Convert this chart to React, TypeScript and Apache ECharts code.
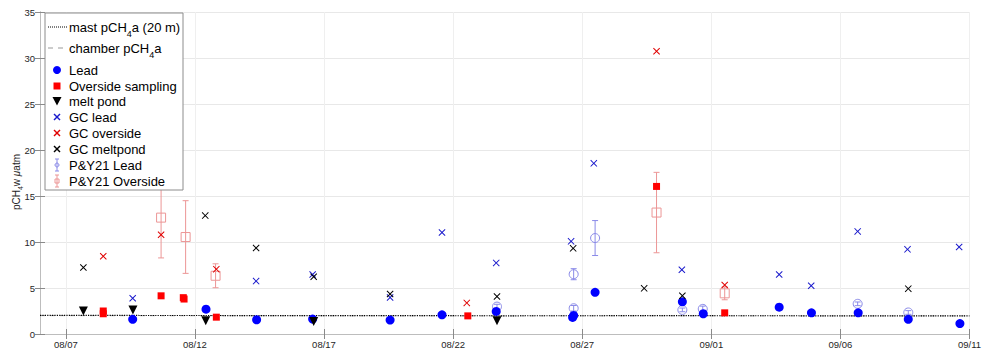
import React, { useEffect, useRef } from "react";
import * as echarts from "echarts";

// x values: days since 08/06 00:00
const xTickDays = [1, 6, 11, 16, 21, 26, 31, 36];
const xTickLabels = ["08/07", "08/12", "08/17", "08/22", "08/27", "09/01", "09/06", "09/11"];

const mastDays = [0, 6, 12, 18, 24, 30, 36];
const mastValues = [2.02, 2.01, 2.0, 1.98, 1.99, 1.98, 1.98];
const chamberValues = [2.0, 1.99, 1.98, 1.97, 1.98, 1.97, 1.97];

const leadDays = [3.59, 6.43, 8.39, 10.56, 13.56, 15.57, 17.67, 20.63, 20.67, 21.5, 24.88, 25.69, 28.63, 29.88, 31.69, 33.63, 35.63];
const leadValues = [1.6, 2.7, 1.55, 1.62, 1.51, 2.08, 2.45, 1.8, 2.02, 4.53, 3.5, 2.2, 2.91, 2.3, 2.3, 1.6, 1.13];

const oversideDays = [2.45, 2.45, 4.69, 5.55, 5.58, 6.83, 16.57, 23.88, 26.52];
const oversideValues = [2.2, 2.5, 4.15, 3.95, 3.8, 1.83, 1.97, 16.04, 2.3];

const meltDays = [1.68, 3.6, 6.42, 10.6, 17.7];
const meltValues = [2.5, 2.62, 1.45, 1.37, 1.44];

const gcLeadDays = [3.59, 8.37, 10.56, 13.56, 15.57, 17.67, 20.57, 21.45, 24.86, 28.63, 29.87, 31.67, 33.6, 35.6];
const gcLeadValues = [3.88, 5.75, 6.47, 3.96, 11.04, 7.73, 10.07, 18.55, 6.98, 6.47, 5.25, 11.15, 9.2, 9.46];

const gcOversideDays = [2.45, 4.69, 6.83, 16.53, 23.88, 26.52];
const gcOversideValues = [8.45, 10.79, 7.05, 3.38, 30.74, 5.32];

const gcMeltDays = [1.68, 6.4, 8.37, 10.6, 13.56, 17.7, 20.65, 23.4, 24.88, 33.63];
const gcMeltValues = [7.23, 12.87, 9.35, 6.22, 4.35, 4.07, 9.31, 4.96, 4.15, 4.93];

const pyLeadDays = [17.7, 20.67, 20.67, 21.5, 24.88, 25.67, 31.67, 33.63];
const pyLeadValues = [2.98, 2.8, 6.5, 10.43, 2.62, 2.73, 3.28, 2.34];
const pyLeadErr = [0.25, 0.3, 0.6, 1.9, 0.2, 0.3, 0.2, 0.2];

const pyOverDays = [4.69, 5.64, 6.8, 23.88, 26.52];
const pyOverValues = [12.65, 10.54, 6.33, 13.2, 4.42];
const pyOverErr = [4.38, 3.95, 1.3, 4.37, 0.7];

const FONT = "Liberation Sans, Arial, Helvetica, sans-serif";
const C_LEAD = "#0000ff";
const C_OVER = "#ff0000";
const C_GCLEAD = "#1a1acc";
const C_GCOVER = "#e00000";
const C_PYLEAD = "#8a8ae8";
const C_PYOVER = "#ec9696";
const XPATH = "path://M0,1L1,0L5,4L9,0L10,1L6,5L10,9L9,10L5,6L1,10L0,9L4,5Z";

const zip = (a: number[], b: number[]) => a.map((v, i) => [v, b[i]]);
const zip3 = (a: number[], b: number[], c: number[]) => a.map((v, i) => [v, b[i], c[i]]);

function errRender(kind: "circle" | "square", color: string) {
  return (params: any, api: any) => {
    const x = api.value(0);
    const y = api.value(1);
    const e = api.value(2);
    const c = api.coord([x, y]);
    const t = api.coord([x, y + e]);
    const b = api.coord([x, y - e]);
    const cap = 3;
    const st = { stroke: color, lineWidth: 1, fill: "none" };
    const children: any[] = [
      { type: "line", shape: { x1: c[0], y1: t[1], x2: c[0], y2: b[1] }, style: st },
      { type: "line", shape: { x1: c[0] - cap, y1: t[1], x2: c[0] + cap, y2: t[1] }, style: st },
      { type: "line", shape: { x1: c[0] - cap, y1: b[1], x2: c[0] + cap, y2: b[1] }, style: st },
    ];
    if (kind === "circle") {
      children.push({ type: "circle", shape: { cx: c[0], cy: c[1], r: 4.5 }, style: st });
    } else {
      children.push({ type: "rect", shape: { x: c[0] - 4.5, y: c[1] - 4.5, width: 9, height: 9 }, style: st });
    }
    return { type: "group", children };
  };
}

function legendGraphic() {
  const x0 = 45, y0 = 13;
  const ix = 57;
  const tx = 69;
  const rows = [27, 48, 70, 86, 101, 117, 133, 149, 165, 181];
  const els: any[] = [];
  els.push({ type: "rect", shape: { x: x0, y: y0, width: 138, height: 177 }, style: { fill: "#fff", stroke: "#8c8c8c", lineWidth: 1 } });
  const txt = (y: number, text: string, rich?: boolean) => ({
    type: "text",
    x: tx,
    y,
    style: {
      text,
      font: `13px ${FONT}`,
      fill: "#000",
      verticalAlign: "middle",
      align: "left",
      rich: rich
        ? {
            n: { fontSize: 13, fontFamily: FONT, lineHeight: 22, verticalAlign: "middle" },
            s: { fontSize: 9, fontFamily: FONT, lineHeight: 9, verticalAlign: "bottom" },
          }
        : undefined,
    },
  });
  // mast
  els.push({ type: "line", shape: { x1: 48, y1: rows[0], x2: 67, y2: rows[0] }, style: { stroke: "#000", lineWidth: 1, lineDash: [1, 1] } });
  els.push(txt(rows[0], "{n|mast pCH}{s|4}{n|a (20 m)}", true));
  // chamber
  els.push({ type: "line", shape: { x1: 48, y1: rows[1], x2: 67, y2: rows[1] }, style: { stroke: "#999", lineWidth: 1, lineDash: [5, 5] } });
  els.push(txt(rows[1], "{n|chamber pCH}{s|4}{n|a}", true));
  // Lead
  els.push({ type: "circle", shape: { cx: ix, cy: rows[2], r: 4 }, style: { fill: C_LEAD } });
  els.push(txt(rows[2], "Lead"));
  els.push({ type: "rect", shape: { x: ix - 3.5, y: rows[3] - 3.5, width: 7, height: 7 }, style: { fill: C_OVER } });
  els.push(txt(rows[3], "Overside sampling"));
  els.push({ type: "polygon", shape: { points: [[ix - 4.5, rows[4] - 4], [ix + 4.5, rows[4] - 4], [ix, rows[4] + 4.5]] }, style: { fill: "#000" } });
  els.push(txt(rows[4], "melt pond"));
  const xmark = (y: number, color: string) => [
    { type: "line", shape: { x1: ix - 3, y1: y - 3, x2: ix + 3, y2: y + 3 }, style: { stroke: color, lineWidth: 1.4 } },
    { type: "line", shape: { x1: ix - 3, y1: y + 3, x2: ix + 3, y2: y - 3 }, style: { stroke: color, lineWidth: 1.4 } },
  ];
  els.push(...xmark(rows[5], C_GCLEAD));
  els.push(txt(rows[5], "GC lead"));
  els.push(...xmark(rows[6], C_GCOVER));
  els.push(txt(rows[6], "GC overside"));
  els.push(...xmark(rows[7], "#000"));
  els.push(txt(rows[7], "GC meltpond"));
  const ebar = (y: number, color: string, kind: string) => {
    const st = { stroke: color, lineWidth: 1, fill: "none" };
    const arr: any[] = [
      { type: "line", shape: { x1: ix, y1: y - 6, x2: ix, y2: y + 6 }, style: st },
      { type: "line", shape: { x1: ix - 2, y1: y - 6, x2: ix + 2, y2: y - 6 }, style: st },
      { type: "line", shape: { x1: ix - 2, y1: y + 6, x2: ix + 2, y2: y + 6 }, style: st },
    ];
    if (kind === "circle") arr.push({ type: "circle", shape: { cx: ix, cy: y, r: 2 }, style: st });
    else arr.push({ type: "rect", shape: { x: ix - 2, y: y - 2, width: 4, height: 4 }, style: st });
    return arr;
  };
  els.push(...ebar(rows[8], C_PYLEAD, "circle"));
  els.push(txt(rows[8], "P&Y21 Lead"));
  els.push(...ebar(rows[9], C_PYOVER, "square"));
  els.push(txt(rows[9], "P&Y21 Overside"));
  return els;
}

export default function App() {
  const ref = useRef<HTMLDivElement>(null);
  useEffect(() => {
    if (!ref.current) return;
    const chart = echarts.init(ref.current, undefined, { renderer: "svg" });
    const xTickFmt = (v: number) => {
      const i = xTickDays.indexOf(Math.round(v));
      return i >= 0 ? xTickLabels[i] : "";
    };
    const option: any = {
      animation: false,
      backgroundColor: "#fff",
      grid: { left: 40, right: 11, top: 12, bottom: 13, containLabel: false },
      xAxis: [
        {
          type: "value",
          min: 0,
          max: 36,
          interval: 1,
          axisLine: { show: true, lineStyle: { color: "#bdbdbd", width: 1 } },
          axisTick: { show: true, inside: true, length: 5, customValues: xTickDays, lineStyle: { color: "#8a8a8a" } },
          axisLabel: { show: true, customValues: xTickDays, formatter: xTickFmt, fontSize: 9.5, color: "#262626", fontFamily: FONT, margin: 5 },
          splitLine: { show: true, lineStyle: { color: "#efefef", width: 1 } },
        },
        {
          type: "value",
          position: "top",
          min: 0,
          max: 36,
          interval: 1,
          axisLine: { show: true, lineStyle: { color: "#bdbdbd", width: 1 } },
          axisTick: { show: true, inside: true, length: 5, customValues: xTickDays, lineStyle: { color: "#8a8a8a" } },
          axisLabel: { show: false },
          splitLine: { show: false },
        },
      ],
      yAxis: [
        {
          type: "value",
          min: 0,
          max: 35,
          interval: 5,
          axisLine: { show: true, lineStyle: { color: "#bdbdbd", width: 1 } },
          axisTick: { show: true, inside: true, length: 5, lineStyle: { color: "#8a8a8a" } },
          axisLabel: { fontSize: 9.5, color: "#262626", fontFamily: FONT, margin: 5 },
          splitLine: { show: true, lineStyle: { color: "#e8e8e8", width: 1 } },
        },
        {
          type: "value",
          position: "right",
          min: 0,
          max: 35,
          interval: 5,
          axisLine: { show: true, lineStyle: { color: "#bdbdbd", width: 1 } },
          axisTick: { show: true, inside: true, length: 5, lineStyle: { color: "#8a8a8a" } },
          axisLabel: { show: false },
          splitLine: { show: false },
        },
      ],
      graphic: {
        elements: [
          {
            type: "text",
            x: 16,
            y: 182,
            rotation: Math.PI / 2,
            style: {
              text: "{n|pCH}{s|4}{n|w }{i|μ}{n|atm}",
              align: "center",
              verticalAlign: "middle",
              fill: "#262626",
              font: `10px ${FONT}`,
              rich: {
                n: { fontSize: 10, fontFamily: FONT, lineHeight: 16, verticalAlign: "middle", fill: "#262626" },
                i: { fontSize: 10, fontFamily: FONT, fontStyle: "italic", lineHeight: 16, verticalAlign: "middle", fill: "#262626" },
                s: { fontSize: 7, fontFamily: FONT, lineHeight: 7, verticalAlign: "bottom", fill: "#262626" },
              },
            },
            z: 100,
          },
          ...legendGraphic().map((e) => ({ ...e, z: 100 })),
        ],
      },
      series: [
        {
          name: "chamber pCH4a",
          type: "line",
          data: zip(mastDays, chamberValues),
          symbol: "none",
          lineStyle: { color: "#999", width: 1, type: [5, 5] },
          z: 2,
        },
        {
          name: "mast pCH4a (20 m)",
          type: "line",
          data: zip(mastDays, mastValues),
          symbol: "none",
          lineStyle: { color: "#000", width: 1.2, type: [1.2, 1.2] },
          z: 3,
        },
        {
          name: "P&Y21 Lead",
          type: "custom",
          renderItem: errRender("circle", C_PYLEAD),
          data: zip3(pyLeadDays, pyLeadValues, pyLeadErr),
          encode: { x: 0, y: 1 },
          z: 4,
        },
        {
          name: "P&Y21 Overside",
          type: "custom",
          renderItem: errRender("square", C_PYOVER),
          data: zip3(pyOverDays, pyOverValues, pyOverErr),
          encode: { x: 0, y: 1 },
          z: 4,
        },
        {
          name: "Lead",
          type: "scatter",
          data: zip(leadDays, leadValues),
          symbol: "circle",
          symbolSize: 9,
          itemStyle: { color: C_LEAD, opacity: 1 },
          z: 5,
        },
        {
          name: "Overside sampling",
          type: "scatter",
          data: zip(oversideDays, oversideValues),
          symbol: "rect",
          symbolSize: 7,
          itemStyle: { color: C_OVER, opacity: 1 },
          z: 5,
        },
        {
          name: "melt pond",
          type: "scatter",
          data: zip(meltDays, meltValues),
          symbol: "triangle",
          symbolRotate: 180,
          symbolSize: 9,
          itemStyle: { color: "#000", opacity: 1 },
          z: 5,
        },
        {
          name: "GC lead",
          type: "scatter",
          data: zip(gcLeadDays, gcLeadValues),
          symbol: XPATH,
          symbolSize: 7,
          itemStyle: { color: C_GCLEAD, opacity: 1 },
          z: 6,
        },
        {
          name: "GC overside",
          type: "scatter",
          data: zip(gcOversideDays, gcOversideValues),
          symbol: XPATH,
          symbolSize: 7,
          itemStyle: { color: C_GCOVER, opacity: 1 },
          z: 6,
        },
        {
          name: "GC meltpond",
          type: "scatter",
          data: zip(gcMeltDays, gcMeltValues),
          symbol: XPATH,
          symbolSize: 7,
          itemStyle: { color: "#000", opacity: 1 },
          z: 6,
        },
      ],
    };
    chart.setOption(option);
    return () => chart.dispose();
  }, []);
  return <div ref={ref} style={{ width: 984, height: 349, position: "absolute", left: 0, top: 0 }} />;
}
